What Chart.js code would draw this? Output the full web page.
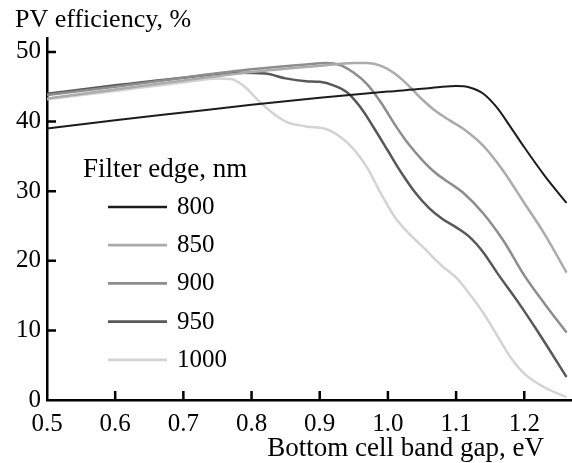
<!DOCTYPE html>
<html><head><meta charset="utf-8">
<script src="https://cdn.jsdelivr.net/npm/chart.js@4/dist/chart.umd.min.js"></script>
<style>html,body{margin:0;padding:0;background:#fff}#wrap{width:572px;height:463px;position:relative}</style>
</head><body><div id="wrap"><canvas id="c" width="572" height="463"></canvas></div>
<script>
// ---- data ----
const seriesNames = ['800', '850', '900', '950', '1000'];

const gap800 = [0.5, 0.6, 0.7, 0.8, 0.9, 1.0, 1.05, 1.08, 1.1, 1.12, 1.14, 1.16, 1.18, 1.2, 1.23, 1.262];
const eff800 = [39.0, 40.2, 41.3, 42.4, 43.4, 44.3, 44.7, 45.0, 45.1, 44.9, 44.0, 42.0, 39.2, 36.3, 32.2, 28.3];

const gap850 = [0.5, 0.6, 0.7, 0.8, 0.9, 0.95, 0.97, 0.99, 1.01, 1.03, 1.05, 1.07, 1.09, 1.11, 1.14, 1.17, 1.2, 1.23, 1.262];
const eff850 = [43.3, 44.6, 45.9, 47.1, 48.0, 48.4, 48.4, 48.0, 46.9, 45.2, 43.2, 41.5, 40.2, 39.0, 36.5, 32.8, 28.3, 23.8, 18.3];

const gap900 = [0.5, 0.6, 0.7, 0.8, 0.88, 0.91, 0.93, 0.95, 0.97, 0.99, 1.01, 1.03, 1.05, 1.07, 1.09, 1.11, 1.14, 1.17, 1.2, 1.23, 1.262];
const eff900 = [43.8, 45.0, 46.3, 47.5, 48.2, 48.4, 48.1, 47.0, 45.3, 42.7, 39.6, 36.8, 34.5, 32.6, 31.2, 29.8, 26.8, 22.8, 17.9, 13.8, 9.7];

const gap950 = [0.5, 0.6, 0.7, 0.78, 0.82, 0.85, 0.88, 0.9, 0.92, 0.94, 0.96, 0.98, 1.0, 1.02, 1.04, 1.06, 1.08, 1.1, 1.12, 1.14, 1.16, 1.19, 1.22, 1.262];
const eff950 = [44.0, 45.2, 46.3, 47.0, 46.9, 46.2, 45.8, 45.7, 45.2, 44.2, 42.0, 39.0, 35.8, 32.6, 29.8, 27.6, 26.0, 24.8, 23.4, 21.2, 18.3, 14.2, 9.8, 3.3];

const gap1000 = [0.5, 0.6, 0.7, 0.75, 0.77, 0.79, 0.81, 0.83, 0.85, 0.88, 0.91, 0.93, 0.95, 0.97, 0.99, 1.01, 1.03, 1.05, 1.08, 1.1, 1.12, 1.14, 1.16, 1.18, 1.2, 1.23, 1.262];
const eff1000 = [43.2, 44.4, 45.6, 46.2, 46.1, 45.0, 43.0, 41.3, 40.0, 39.3, 38.9, 37.8, 36.0, 33.3, 29.6, 26.3, 24.0, 22.1, 19.2, 17.6, 15.2, 12.5, 9.3, 6.1, 3.8, 1.8, 0.4];

const xTicks = [0.5, 0.6, 0.7, 0.8, 0.9, 1.0, 1.1, 1.2];
const yTicks = [0, 10, 20, 30, 40, 50];

const yTitle = 'PV efficiency, %';
const xTitle = 'Bottom cell band gap, eV';
const legendTitle = 'Filter edge, nm';

// ---- styles ----
const colors = ['#1c1c1c', '#ababab', '#8d8d8d', '#585858', '#d3d3d3'];
const widths = [2, 2.5, 2.5, 2.5, 2.5];
const SERIF = 'Liberation Serif';

Chart.defaults.font.family = SERIF;
Chart.defaults.color = '#000';

const gaps = [gap800, gap850, gap900, gap950, gap1000];
const effs = [eff800, eff850, eff900, eff950, eff1000];

const datasets = seriesNames.map((name, i) => ({
  label: name,
  data: gaps[i].map((g, k) => ({ x: g, y: effs[i][k] })),
  borderColor: colors[i],
  backgroundColor: colors[i],
  borderWidth: widths[i],
  pointRadius: 0,
  pointHoverRadius: 0,
  cubicInterpolationMode: 'monotone',
  fill: false
}));

const decor = {
  id: 'decor',
  afterDraw(chart) {
    const ctx = chart.ctx;
    const xs = chart.scales.x, ys = chart.scales.y;
    const area = chart.chartArea;
    ctx.save();
    // inner ticks
    ctx.strokeStyle = '#000';
    ctx.lineWidth = 2.5;
    ctx.beginPath();
    yTicks.forEach(v => {
      if (v === 0) return;
      const p = ys.getPixelForValue(v);
      ctx.moveTo(area.left, p); ctx.lineTo(area.left + 9, p);
    });
    xTicks.forEach(v => {
      if (v === xTicks[0]) return;
      const p = xs.getPixelForValue(v);
      ctx.moveTo(p, area.bottom); ctx.lineTo(p, area.bottom - 9);
    });
    ctx.stroke();
    // titles
    ctx.fillStyle = '#000';
    ctx.textBaseline = 'alphabetic';
    ctx.font = '26px "' + SERIF + '"';
    ctx.textAlign = 'left';
    ctx.fillText(yTitle, 15, 27);
    ctx.font = '27px "' + SERIF + '"';
    ctx.textAlign = 'right';
    ctx.fillText(xTitle, 544, 456);
    // legend
    ctx.textAlign = 'left';
    ctx.fillText(legendTitle, 83, 177);
    ctx.font = '25px "' + SERIF + '"';
    seriesNames.forEach((name, i) => {
      const y = 207 + i * 38.2;
      ctx.strokeStyle = colors[i];
      ctx.lineWidth = widths[i] + 0.3;
      ctx.beginPath(); ctx.moveTo(108, y); ctx.lineTo(167, y); ctx.stroke();
      ctx.fillStyle = '#000';
      ctx.fillText(name, 177, y + 7);
    });
    ctx.restore();
  }
};

new Chart(document.getElementById('c'), {
  type: 'line',
  data: { datasets },
  options: {
    responsive: false,
    devicePixelRatio: 1,
    animation: false,
    layout: { padding: { top: 38, right: 0, left: 0, bottom: 0 } },
    plugins: { legend: { display: false }, tooltip: { enabled: false }, title: { display: false } },
    scales: {
      x: {
        type: 'linear', min: 0.5, max: 1.27,
        afterBuildTicks: s => { s.ticks = xTicks.map(v => ({ value: v })); },
        afterFit: s => { s.height = 63; },
        grid: { display: false, drawTicks: false },
        border: { display: true, color: '#000', width: 2.5 },
        ticks: { color: '#000', font: { family: SERIF, size: 25 }, padding: 9, maxRotation: 0, autoSkip: false,
          callback: v => Number(v).toFixed(1) }
      },
      y: {
        type: 'linear', min: 0, max: 52,
        afterBuildTicks: s => { s.ticks = yTicks.map(v => ({ value: v })); },
        afterFit: s => { s.width = 47; },
        grid: { display: false, drawTicks: false },
        border: { display: true, color: '#000', width: 2.5 },
        ticks: { color: '#000', font: { family: SERIF, size: 25 }, padding: 6, autoSkip: false,
          callback: v => String(v) }
      }
    }
  },
  plugins: [decor]
});
</script></body></html>
